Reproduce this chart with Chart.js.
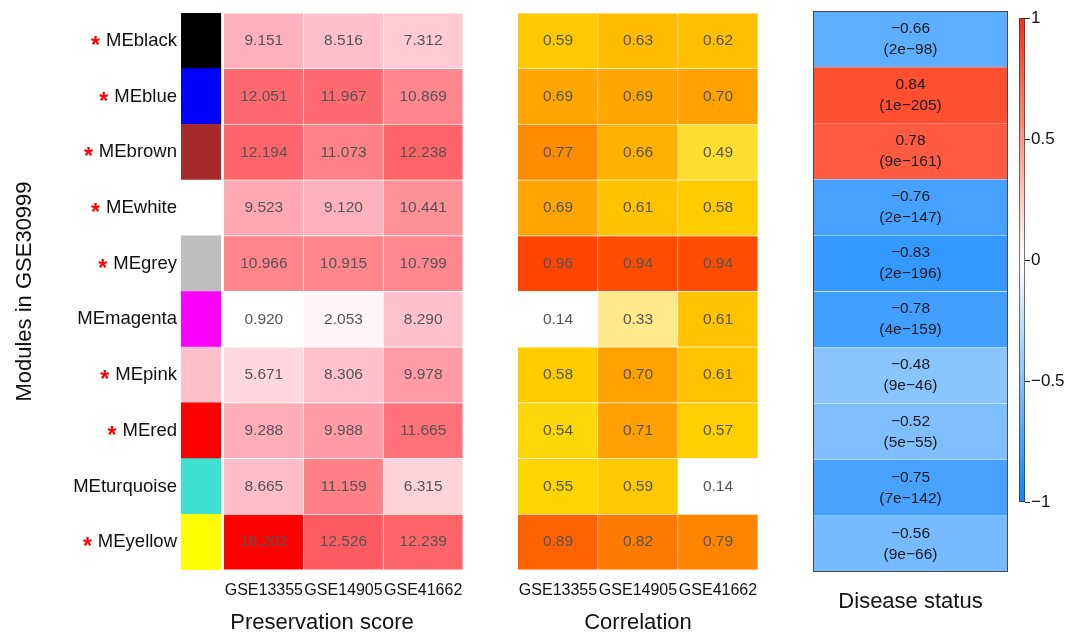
<!DOCTYPE html>
<html>
<head>
<meta charset="utf-8">
<script src="https://cdn.jsdelivr.net/npm/chart.js@4.4.1/dist/chart.umd.min.js"></script>
<style>
  body { margin: 0; background: #fff; }
  #wrap { position: relative; width: 1079px; height: 634px; overflow: hidden; }
  #wrap canvas { position: absolute; top: 0; }
</style>
</head>
<body>
<div id="wrap">
  <canvas id="pres" width="470" height="634" style="left:0px"></canvas>
  <canvas id="cor" width="320" height="634" style="left:470px"></canvas>
  <canvas id="dis" width="222" height="634" style="left:790px"></canvas>
  <canvas id="bar" width="67" height="634" style="left:1012px"></canvas>
</div>
<script>
// modules (rows, top to bottom)
var modules = ['MEblack', 'MEblue', 'MEbrown', 'MEwhite', 'MEgrey', 'MEmagenta', 'MEpink', 'MEred', 'MEturquoise', 'MEyellow'];
var moduleColors = ['#000000', '#0000FF', '#A52A2A', '#FFFFFF', '#BEBEBE', '#FF00FF', '#FFC0CB', '#FF0000', '#40E0D0', '#FFFF00'];
var significant = [true, true, true, true, true, false, true, true, false, true];
var studies = ['GSE13355', 'GSE14905', 'GSE41662'];

// preservation score per study
var presGSE13355 = [9.151, 12.051, 12.194, 9.523, 10.966, 0.920, 5.671, 9.288, 8.665, 16.202];
var presGSE14905 = [8.516, 11.967, 11.073, 9.120, 10.915, 2.053, 8.306, 9.988, 11.159, 12.526];
var presGSE41662 = [7.312, 10.869, 12.238, 10.441, 10.799, 8.290, 9.978, 11.665, 6.315, 12.239];

// correlation per study
var corGSE13355 = [0.59, 0.69, 0.77, 0.69, 0.96, 0.14, 0.58, 0.54, 0.55, 0.89];
var corGSE14905 = [0.63, 0.69, 0.66, 0.61, 0.94, 0.33, 0.70, 0.71, 0.59, 0.82];
var corGSE41662 = [0.62, 0.70, 0.49, 0.58, 0.94, 0.61, 0.61, 0.57, 0.14, 0.79];

// disease status correlation and p value
var diseaseCor = [-0.66, 0.84, 0.78, -0.76, -0.83, -0.78, -0.48, -0.52, -0.75, -0.56];
var diseaseP = ['2e\u221298', '1e\u2212205', '9e\u2212161', '2e\u2212147', '2e\u2212196', '4e\u2212159', '9e\u221246', '5e\u221255', '7e\u2212142', '9e\u221266'];

// colour bar ticks
var barTicks = [-1, -0.5, 0, 0.5, 1];

var FONT = '"Liberation Sans", Arial, Helvetica, sans-serif';
Chart.defaults.font.family = FONT;
Chart.defaults.color = '#111';
Chart.defaults.animation = false;
Chart.defaults.plugins.legend.display = false;
Chart.defaults.plugins.tooltip.enabled = false;

function mix(a, b, t) { return a.map(function(v, i) { return Math.round(v + (b[i] - v) * t); }); }
function rgb(c) { return 'rgb(' + c[0] + ',' + c[1] + ',' + c[2] + ')'; }
function ramp(stops, v) {
  if (v <= stops[0][0]) return rgb(stops[0][1]);
  for (var i = 1; i < stops.length; i++) {
    if (v <= stops[i][0]) {
      var t = (v - stops[i - 1][0]) / (stops[i][0] - stops[i - 1][0]);
      return rgb(mix(stops[i - 1][1], stops[i][1], t));
    }
  }
  return rgb(stops[stops.length - 1][1]);
}

var allPres = presGSE13355.concat(presGSE14905, presGSE41662);
var pMin = Math.min.apply(null, allPres), pMax = Math.max.apply(null, allPres);
var presStops = [[pMin, [255, 255, 255]], [(pMin + pMax) / 2, [255, 192, 203]], [pMax, [255, 0, 0]]];
var corStops = [[0.14, [255, 255, 255]], [0.33, [255, 233, 138]], [0.49, [255, 222, 45]], [0.55, [255, 213, 0]],
  [0.62, [255, 192, 0]], [0.70, [255, 162, 0]], [0.77, [255, 140, 0]], [0.82, [255, 122, 0]],
  [0.89, [255, 98, 0]], [0.96, [255, 69, 0]]];
var RED_END = [255, 45, 10], BLUE_END = [10, 132, 255];
function divColor(v) {
  return v >= 0 ? rgb(mix([255, 255, 255], RED_END, v)) : rgb(mix([255, 255, 255], BLUE_END, -v));
}

// draws text lines in the middle of each bar
var cellText = {
  id: 'cellText',
  afterDatasetsDraw: function(chart) {
    var ctx = chart.ctx;
    chart.data.datasets.forEach(function(ds, di) {
      if (!ds.cellText) return;
      chart.getDatasetMeta(di).data.forEach(function(el, i) {
        var p = el.getProps(['x', 'y', 'base'], true);
        var cx = (p.x + p.base) / 2;
        var lines = [].concat(ds.cellText[i]);
        ctx.save();
        ctx.font = ds.textFont;
        ctx.fillStyle = ds.textColor;
        ctx.textAlign = 'center';
        ctx.textBaseline = 'middle';
        lines.forEach(function(s, k) {
          ctx.fillText(s, cx, p.y + (k - (lines.length - 1) / 2) * ds.lineGap);
        });
        ctx.restore();
      });
    });
  }
};

// red asterisks in front of significant modules
var stars = {
  id: 'stars',
  afterDraw: function(chart) {
    var ctx = chart.ctx, ys = chart.scales.y;
    ctx.save();
    ctx.font = '18.5px ' + FONT;
    var right = ys.right - ys.options.ticks.padding;
    modules.forEach(function(m, i) {
      if (!significant[i]) return;
      var w = ctx.measureText(m).width;
      var y = ys.getPixelForTick(i);
      ctx.save();
      ctx.font = 'bold 23px ' + FONT;
      ctx.fillStyle = '#FF0000';
      ctx.textAlign = 'right';
      ctx.textBaseline = 'alphabetic';
      ctx.fillText('*', right - w - 6, y + 12);
      ctx.restore();
    });
    ctx.restore();
  }
};

var panelBorder = {
  id: 'panelBorder',
  afterDraw: function(chart) {
    var a = chart.chartArea, ctx = chart.ctx;
    ctx.save();
    ctx.strokeStyle = '#4a4a4a';
    ctx.lineWidth = 1;
    ctx.strokeRect(Math.round(a.left) + 0.5, Math.round(a.top) + 0.5, Math.round(a.right - a.left) - 1, Math.round(a.bottom - a.top) - 1);
    ctx.restore();
  }
};

var SWATCH_W = 0.5, SWATCH_GAP = 0.04;

function cellSet(values, colorFn, fmt, border) {
  return {
    data: values.map(function() { return 1; }),
    backgroundColor: values.map(colorFn),
    borderColor: border,
    borderWidth: 0.75,
    cellText: values.map(fmt),
    textFont: '15.5px ' + FONT,
    textColor: '#555',
    lineGap: 0
  };
}

function studyAxis(offset, title) {
  return {
    type: 'linear', stacked: true, min: 0, max: offset + studies.length,
    grid: { display: false, drawTicks: false }, border: { display: false },
    afterBuildTicks: function(s) { s.ticks = studies.map(function(n, i) { return { value: offset + i + 0.5 }; }); },
    afterFit: function(s) { s.height = 64; s.paddingLeft = 0; s.paddingRight = 0; },
    ticks: {
      autoSkip: false, maxRotation: 0, padding: 11, color: '#111', font: { size: 16 },
      callback: function(v, i) { return studies[i]; }
    },
    title: { display: true, text: title, color: '#111', font: { size: 22, lineHeight: 1 }, padding: 0 }
  };
}

// preservation score panel
new Chart(document.getElementById('pres'), {
  type: 'bar',
  data: {
    labels: modules,
    datasets: [
      { data: modules.map(function() { return SWATCH_W; }), backgroundColor: moduleColors, borderWidth: 0 },
      { data: modules.map(function() { return SWATCH_GAP; }), backgroundColor: 'rgba(0,0,0,0)', borderWidth: 0 },
      cellSet(presGSE13355, function(v) { return ramp(presStops, v); }, function(v) { return v.toFixed(3); }, '#ffffff'),
      cellSet(presGSE14905, function(v) { return ramp(presStops, v); }, function(v) { return v.toFixed(3); }, '#ffffff'),
      cellSet(presGSE41662, function(v) { return ramp(presStops, v); }, function(v) { return v.toFixed(3); }, '#ffffff')
    ]
  },
  options: {
    indexAxis: 'y', responsive: false,
    barPercentage: 1, categoryPercentage: 1,
    layout: { padding: { top: 13, right: 7, left: 0, bottom: 0 } },
    scales: {
      x: studyAxis(SWATCH_W + SWATCH_GAP, 'Preservation score'),
      y: {
        type: 'category', stacked: true,
        grid: { display: false, drawTicks: false }, border: { display: false },
        afterFit: function(s) { s.width = 181; s.paddingTop = 0; s.paddingBottom = 0; },
        ticks: { padding: 4, color: '#111', font: { size: 18.5 } },
        title: { display: true, text: 'Modules in GSE30999', color: '#111', font: { size: 22, lineHeight: 1.2 }, padding: { top: 12, bottom: 0 } }
      }
    }
  },
  plugins: [cellText, stars]
});

// correlation panel
new Chart(document.getElementById('cor'), {
  type: 'bar',
  data: {
    labels: modules,
    datasets: [
      cellSet(corGSE13355, function(v) { return ramp(corStops, v); }, function(v) { return v.toFixed(2); }, '#fff6e6'),
      cellSet(corGSE14905, function(v) { return ramp(corStops, v); }, function(v) { return v.toFixed(2); }, '#fff6e6'),
      cellSet(corGSE41662, function(v) { return ramp(corStops, v); }, function(v) { return v.toFixed(2); }, '#fff6e6')
    ]
  },
  options: {
    indexAxis: 'y', responsive: false,
    barPercentage: 1, categoryPercentage: 1,
    layout: { padding: { top: 13, right: 32, left: 48, bottom: 0 } },
    scales: {
      x: studyAxis(0, 'Correlation'),
      y: { type: 'category', stacked: true, display: false }
    }
  },
  plugins: [cellText]
});

// disease status panel
new Chart(document.getElementById('dis'), {
  type: 'bar',
  data: {
    labels: modules,
    datasets: [{
      data: diseaseCor.map(function() { return 1; }),
      backgroundColor: diseaseCor.map(divColor),
      borderColor: 'rgba(255,255,255,0.45)',
      borderWidth: 0.5,
      cellText: diseaseCor.map(function(v, i) { return [v.toFixed(2).replace('-', '\u2212'), '(' + diseaseP[i] + ')']; }),
      textFont: '15.5px ' + FONT,
      textColor: '#1a1a1a',
      lineGap: 21
    }]
  },
  options: {
    indexAxis: 'y', responsive: false,
    barPercentage: 1, categoryPercentage: 1,
    layout: { padding: { top: 11, right: 4, left: 23, bottom: 0 } },
    scales: {
      x: {
        type: 'linear', min: 0, max: 1,
        grid: { display: false, drawTicks: false }, border: { display: false },
        afterFit: function(s) { s.height = 62; },
        ticks: { display: false },
        title: { display: true, text: 'Disease status', color: '#111', font: { size: 22, lineHeight: 1 }, padding: { top: 0, bottom: 21 } }
      },
      y: { type: 'category', display: false }
    }
  },
  plugins: [cellText, panelBorder]
});

// colour bar
new Chart(document.getElementById('bar'), {
  type: 'bar',
  data: {
    labels: [''],
    datasets: [{
      data: [[barTicks[0], barTicks[barTicks.length - 1]]],
      borderColor: '#333',
      borderWidth: 1,
      borderSkipped: false,
      backgroundColor: function(c) {
        var chart = c.chart;
        if (!chart.chartArea) return null;
        var y = chart.scales.y;
        var g = chart.ctx.createLinearGradient(0, y.getPixelForValue(1), 0, y.getPixelForValue(-1));
        for (var k = 0; k <= 20; k++) {
          var v = 1 - k / 10;
          g.addColorStop(k / 20, divColor(v));
        }
        return g;
      }
    }]
  },
  options: {
    responsive: false,
    barPercentage: 1, categoryPercentage: 1,
    layout: { padding: { top: 18, left: 7, bottom: 132, right: 0 } },
    scales: {
      x: { display: false },
      y: {
        position: 'right', min: -1, max: 1,
        afterBuildTicks: function(s) { s.ticks = barTicks.map(function(v) { return { value: v }; }); },
        afterFit: function(s) { s.width = 54; },
        grid: { drawOnChartArea: false, drawTicks: true, tickLength: 5, color: '#222' },
        border: { display: false },
        ticks: {
          padding: 1, color: '#111', font: { size: 17 },
          callback: function(v) { return String(v).replace('-', '\u2212'); }
        }
      }
    }
  }
});
</script>
</body>
</html>
